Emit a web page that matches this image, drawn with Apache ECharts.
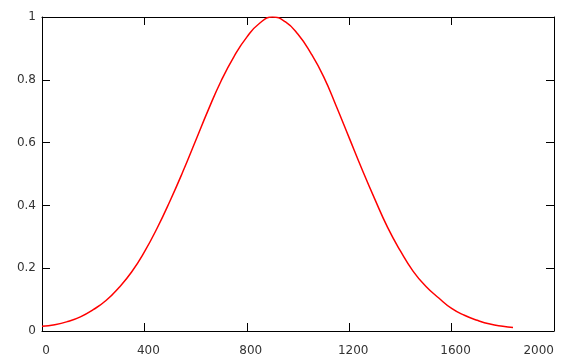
<!DOCTYPE html>
<html>
<head>
<meta charset="utf-8">
<script src="https://cdn.jsdelivr.net/npm/echarts@6/dist/echarts.min.js"></script>
<style>
html,body{margin:0;padding:0;background:#fff;}
#chart{width:570px;height:361px;}
</style>
</head>
<body>
<div id="chart"></div>
<script>
const xValues = [0,50,100,150,200,250,300,350,400,450,500,550,600,650,700,750,800,850,900,950,1000,1050,1100,1150,1200,1250,1300,1350,1400,1450,1500,1550,1600,1650,1700,1750,1800,1840];
const yValues = [0.015,0.020,0.030,0.045,0.068,0.097,0.138,0.188,0.252,0.328,0.414,0.507,0.606,0.705,0.797,0.874,0.936,0.980,1.000,0.985,0.945,0.885,0.810,0.715,0.615,0.515,0.420,0.330,0.255,0.190,0.142,0.105,0.072,0.050,0.034,0.022,0.015,0.011];
const xTicks = {min: 0, max: 2000, interval: 400};
const yTicks = {min: 0, max: 1, interval: 0.2};

const points = xValues.map((x, i) => [x, yValues[i]]);
const chart = echarts.init(document.getElementById('chart'), null, {renderer: 'canvas'});

const lineStyle = {color: '#000', width: 1};
const labelStyle = {color: '#333', fontFamily: 'DejaVu Sans', fontSize: 12};

function xAxis(pos, showLabel) {
  return {
    type: 'value', position: pos, min: xTicks.min, max: xTicks.max, interval: xTicks.interval,
    axisLine: {show: true, onZero: false, lineStyle},
    axisTick: {show: true, inside: true, length: 8, lineStyle},
    axisLabel: {show: showLabel, margin: 14, ...labelStyle, padding: [0, 0, 0, 8],
      formatter: v => String(v), alignMaxLabel: 'right'},
    splitLine: {show: false}
  };
}
function yAxis(pos, showLabel) {
  return {
    type: 'value', position: pos, min: yTicks.min, max: yTicks.max, interval: yTicks.interval,
    axisLine: {show: true, onZero: false, lineStyle},
    axisTick: {show: true, inside: true, length: 8, lineStyle},
    axisLabel: {show: showLabel, margin: 6, ...labelStyle,
      formatter: v => String(Math.round(v * 10) / 10)},
    splitLine: {show: false}
  };
}

chart.setOption({
  animation: false,
  backgroundColor: '#fff',
  grid: {left: 42, right: 16, top: 17, bottom: 30, containLabel: false, outerBoundsMode: 'none'},
  xAxis: [xAxis('bottom', true), xAxis('top', false)],
  yAxis: [yAxis('left', true), yAxis('right', false)],
  series: [{
    type: 'line',
    xAxisIndex: 0, yAxisIndex: 0,
    data: points,
    showSymbol: false,
    smooth: true,
    lineStyle: {color: '#ff0000', width: 1.5},
    z: 1
  }]
});
</script>
</body>
</html>
